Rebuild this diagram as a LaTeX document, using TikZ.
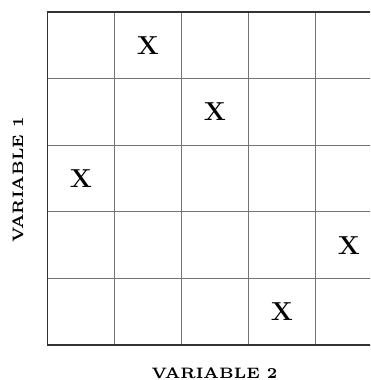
\documentclass[tikz,border=0pt]{standalone}
\begin{document}
\begin{tikzpicture}[x=1pt,y=-1pt,
  inner/.style={draw=black!55,line width=0.8pt},
  outer/.style={draw=black!80,line width=1.4pt},
  xmark/.style={font=\fontsize{26}{26}\selectfont\bfseries,inner sep=0pt},
  axlabel/.style={font=\fontsize{6}{7}\selectfont\bfseries,scale=2.52,inner sep=0pt}]
\useasboundingbox (0,0) rectangle (370,380);
\clip (0,0) rectangle (370,380);
\def\gx{47.5}\def\gy{12}\def\cw{67}\def\ch{66.6}
\foreach \i in {1,...,4}{
  \draw[inner] (\gx+\i*\cw,\gy) -- (\gx+\i*\cw,\gy+5*\ch);
  \draw[inner] (\gx,\gy+\i*\ch) -- (\gx+5*\cw,\gy+\i*\ch);
}
\draw[outer] (\gx,\gy) rectangle (\gx+5*\cw,\gy+5*\ch);
\foreach \c/\r/\n in {2/1/a,3/2/b,1/3/c,5/4/d,4/5/e}{
  \node[xmark] (x\n) at (\gx+\c*\cw-0.5*\cw,\gy+\r*\ch-0.5*\ch) {X};
}
\node[axlabel] (v2) at (214.5,373) {VARIABLE 2};
\node[axlabel,rotate=90] (v1) at (18,180) {VARIABLE 1};
\end{tikzpicture}
\end{document}
